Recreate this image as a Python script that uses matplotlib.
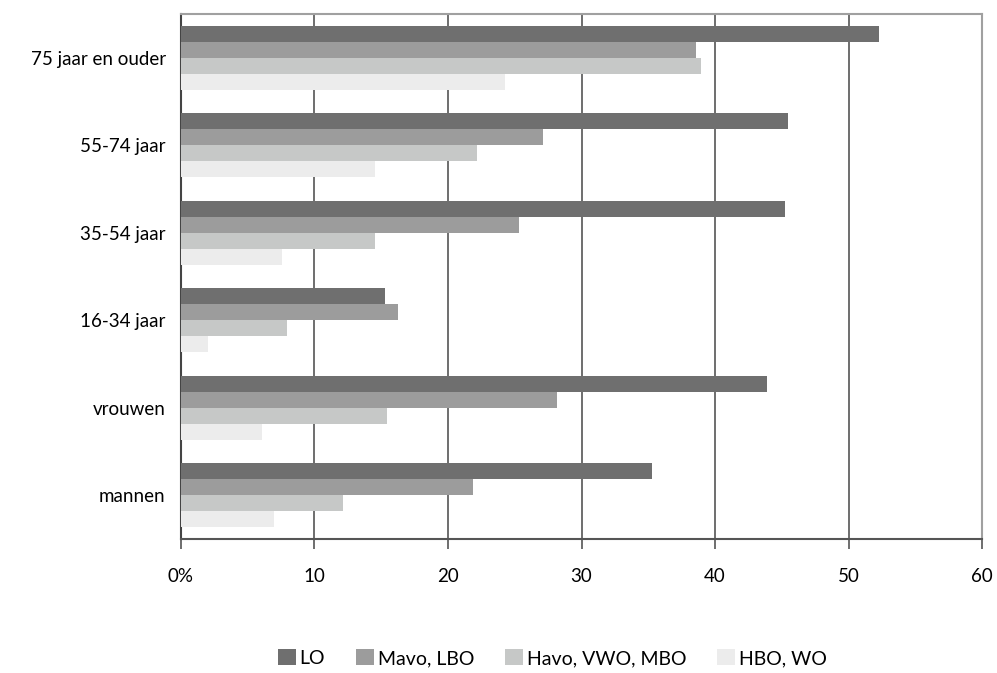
import numpy as np
import matplotlib
matplotlib.use("Agg")
import matplotlib.pyplot as plt

plt.rcParams['font.family'] = ['Lato', 'DejaVu Sans']

# categories, bottom to top
categories = ["mannen", "vrouwen", "16-34 jaar", "35-54 jaar", "55-74 jaar", "75 jaar en ouder"]
series_names = ["LO", "Mavo, LBO", "Havo, VWO, MBO", "HBO, WO"]
lo = [35.3, 43.9, 15.3, 45.25, 45.5, 52.3]
mavo = [21.9, 28.2, 16.25, 25.3, 27.1, 38.6]
havo = [12.1, 15.45, 7.95, 14.5, 22.2, 38.95]
hbo = [7.0, 6.1, 2.0, 7.6, 14.5, 24.3]
colors = ["#6f6f6f", "#9c9c9c", "#c6c8c7", "#ececec"]
xticks = [0, 10, 20, 30, 40, 50, 60]
xtick_labels = ["0%", "10", "20", "30", "40", "50", "60"]

fig = plt.figure(figsize=(9.97, 6.73), dpi=100)
ax = fig.add_axes([0.1815, 0.199, 0.8035, 0.780])

y = np.arange(len(categories))
h = 0.183
offsets = [1.5 * h, 0.5 * h, -0.5 * h, -1.5 * h]
for vals, off, col, name in zip([lo, mavo, havo, hbo], offsets, colors, series_names):
    ax.barh(y + off, vals, height=h, color=col, label=name, zorder=3)

ax.set_xlim(0, 60)
ax.set_ylim(-0.5, len(categories) - 0.5)
ax.set_xticks(xticks)
ax.set_xticklabels(xtick_labels, fontsize=13.5)
ax.set_yticks(y)
ax.set_yticklabels(categories, fontsize=13.5)
ax.tick_params(axis='y', length=0, pad=11)
ax.tick_params(axis='x', length=7, width=1.2, color="#555555", pad=14)

ax.grid(axis='x', color="#555555", linewidth=1.2, zorder=0)
for side in ["top", "right"]:
    ax.spines[side].set_color("#a0a0a0")
    ax.spines[side].set_linewidth(1.5)
ax.spines["left"].set_color("#444444")
ax.spines["left"].set_linewidth(1.5)
ax.spines["bottom"].set_color("#555555")
ax.spines["bottom"].set_linewidth(1.5)

fig.legend(loc="center", bbox_to_anchor=(0.554, 0.022), ncol=4, frameon=False,
           fontsize=14, handlelength=0.9, handleheight=0.9, handletextpad=0.2,
           columnspacing=1.6)

fig.savefig("out.png", dpi=100)
